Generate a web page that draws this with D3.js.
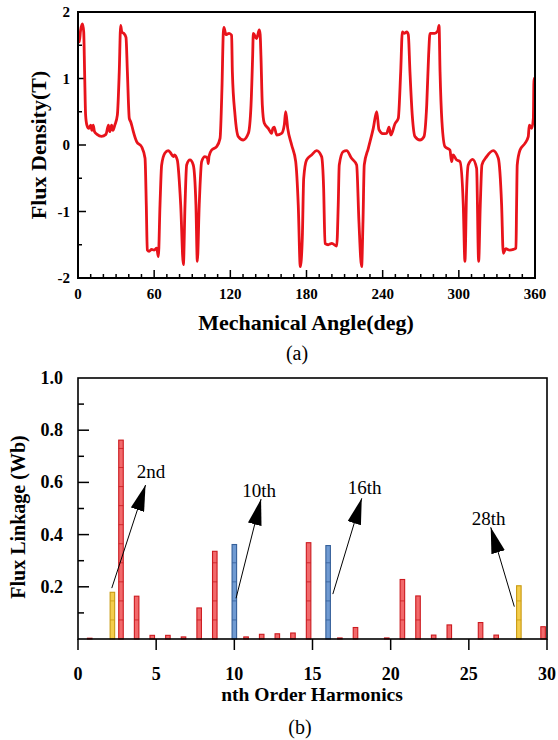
<!DOCTYPE html>
<html>
<head>
<meta charset="utf-8">
<title>Flux density and harmonics</title>
<script src="https://d3js.org/d3.v7.min.js"></script>
<style>
  body { margin: 0; background: #fff; }
  svg text { font-family: "Times New Roman", "Liberation Serif", serif; }
</style>
</head>
<body>
<svg id="chart" width="558" height="740"></svg>
<script>
// ---- (a) air-gap flux density vs mechanical angle ----
var angle = [0,1,2,3.5,4.5,5.2,6,7,8.5,10,11,12,13,15,18.5,22,24,25,26.5,27.5,29,31,32.5,33.6,34.5,36,37.8,38.9,40.4,41.5,42.3,43.6,46.2,50.2,52.8,53.8,54.6,56,58,60,62,63.3,64.6,65.9,68.5,71.1,73,75.1,76,78.2,80.9,83,84.3,85.6,88.2,90.8,92.9,94,95.5,97.4,100,102,102.6,103.2,105.3,109.2,111.9,113.4,114.5,115,116.5,119,121,121.6,123.7,126.3,130.2,134.2,136.3,137.6,138.1,140.7,142.8,143.5,144.1,145.2,146.7,149.9,152.5,153.5,154.6,156.5,160.4,162.5,163.6,165.2,168.3,171.5,173.5,175.1,176.7,177.8,180.1,184,188,191.9,193.5,194.6,197,200,203.8,205,205.8,208.9,211.6,215.5,219.5,221.3,223.4,224.5,225.5,228.7,232.6,235.3,237.1,240,243.2,245,246.5,249.7,252.3,254.2,255.5,257,259,260.2,261.5,263.3,265.5,269.4,272.5,274.7,276.2,277.3,281,283.5,284.4,285.2,286.7,289.1,293,294.3,295.5,298,300.9,303.5,304.8,306.1,307.4,310.9,314,315.6,316.9,318.2,321.9,327.1,331.1,333.7,335,337,340,343,345,345.5,346,348.2,352.1,354.7,355.5,357.4,358.7,359.2,360];
var fluxDensity = [1.62,1.55,1.72,1.82,1.7,1.1,0.45,0.3,0.25,0.3,0.22,0.3,0.2,0.16,0.13,0.16,0.3,0.2,0.3,0.22,0.3,0.45,1.1,1.8,1.7,1.68,1.62,1.1,0.4,0.35,0.3,0.2,0.05,-0.03,-0.2,-0.9,-1.58,-1.6,-1.57,-1.58,-1.55,-1.68,-0.9,-0.3,-0.12,-0.085,-0.12,-0.175,-0.15,-0.225,-0.9,-1.8,-0.9,-0.3,-0.225,-0.3,-0.9,-1.75,-0.9,-0.25,-0.175,-0.2,-0.28,-0.17,-0.075,-0.025,0.1,0.85,1.7,1.77,1.66,1.68,1.65,1.1,0.45,0.125,0.075,0.175,0.6,1.35,1.68,1.6,1.73,1.66,1.35,0.6,0.33,0.25,0.175,0.25,0.27,0.15,0.175,0.3,0.5,0.25,0,-0.25,-0.9,-1.83,-1.4,-0.5,-0.225,-0.15,-0.085,-0.175,-0.65,-1.48,-1.5,-1.48,-1.52,-0.9,-0.3,-0.1,-0.085,-0.2,-0.3,-1.15,-1.83,-1.15,-0.3,-0.05,0.25,0.5,0.23,0.17,0.175,0.27,0.15,0.32,0.4,1.1,1.7,1.68,1.7,1.66,1.1,0.45,0.125,0.075,0.125,0.6,1.35,1.68,1.68,1.72,1.8,1.1,0.35,-0.025,-0.075,-0.25,-0.15,-0.22,-0.25,-0.9,-1.75,-0.7,-0.3,-0.215,-0.35,-1.75,-0.9,-0.3,-0.175,-0.085,-0.2,-0.9,-1.63,-1.56,-1.58,-1.57,-1.55,-0.9,-0.3,-0.075,0.025,0.125,0.3,0.25,0.4,1,1];
var angleTicks = [0, 60, 120, 180, 240, 300, 360];
var densityTicks = [-2, -1, 0, 1, 2];

// ---- (b) harmonic spectrum of flux linkage ----
var redOrder = [0.75,1.75,2.75,3.75,4.75,5.75,6.75,7.75,8.75,9.75,10.75,11.75,12.75,13.75,14.75,15.75,16.75,17.75,18.75,19.75,20.75,21.75,22.75,23.75,24.75,25.75,26.75,27.75,28.75,29.75];
var redLinkage = [0.003,0,0.762,0.164,0.014,0.014,0.008,0.119,0.336,0,0.008,0.018,0.02,0.023,0.369,0,0.004,0.044,0,0.004,0.228,0.165,0.015,0.054,0,0.063,0.015,0,0,0.047];
var markedOrder = [2.2, 10, 16, 28.2];
var markedLinkage = [0.179, 0.362, 0.358, 0.204];
var markedKind = ["yellow", "blue", "blue", "yellow"];
var harmonicTicks = [0, 5, 10, 15, 20, 25, 30];
var linkageTicks = [0.2, 0.4, 0.6, 0.8, 1.0];
var noteText = ["2nd", "10th", "16th", "28th"];
// arrow tail, arrow tip and label, in axis units
var noteFrom = [[2.16, 0.195], [10.11, 0.156], [16.3, 0.172], [27.91, 0.124]];
var noteTip = [[4.32, 0.59], [11.71, 0.536], [18.15, 0.539], [26.4, 0.428]];
var noteAt = [[4.67, 0.641], [11.58, 0.568], [18.33, 0.581], [26.26, 0.462]];

var barColors = {
  red: {fill: "#f2696b", stroke: "#cc1a1f"},
  blue: {fill: "#6f9ad2", stroke: "#35609a"},
  yellow: {fill: "#f4cd4c", stroke: "#c99a12"}
};

var svg = d3.select("#chart");

// ================= chart (a) =================
var xa = d3.scaleLinear().domain([0, 360]).range([78, 535]);
var ya = d3.scaleLinear().domain([-2, 2]).range([278, 12]);

var ga = svg.append("g");

ga.append("clipPath").attr("id", "clipA")
  .append("rect").attr("x", 78).attr("y", 12).attr("width", 457).attr("height", 266);

// minor ticks (inward)
ga.selectAll(".xminA").data(d3.range(0, 361, 10)).enter().append("line")
  .attr("x1", function(d){ return xa(d); }).attr("x2", function(d){ return xa(d); })
  .attr("y1", 278).attr("y2", function(d){ return d % 60 === 0 ? 270 : 274; })
  .attr("stroke", "#000").attr("stroke-width", 1.5);
ga.selectAll(".yminA").data(d3.range(-2, 2.01, 0.5)).enter().append("line")
  .attr("y1", function(d){ return ya(d); }).attr("y2", function(d){ return ya(d); })
  .attr("x1", 78).attr("x2", function(d){ return Number.isInteger(d) ? 86 : 82; })
  .attr("stroke", "#000").attr("stroke-width", 1.5);

// the flux density curve
var pointsA = angle.map(function(a, i){ return [a, fluxDensity[i]]; });
ga.append("path")
  .datum(pointsA)
  .attr("clip-path", "url(#clipA)")
  .attr("fill", "none")
  .attr("stroke", "#e8131b")
  .attr("stroke-width", 2.8)
  .attr("stroke-linejoin", "round")
  .attr("d", d3.line().curve(d3.curveMonotoneX)
    .x(function(d){ return xa(d[0]); }).y(function(d){ return ya(d[1]); }));

// frame
ga.append("rect").attr("x", 78).attr("y", 12).attr("width", 457).attr("height", 266)
  .attr("fill", "none").attr("stroke", "#000").attr("stroke-width", 2);

ga.selectAll(".xlabA").data(angleTicks).enter().append("text")
  .attr("x", function(d){ return xa(d); }).attr("y", 294)
  .attr("text-anchor", "middle").attr("dominant-baseline", "central")
  .attr("font-size", 15).attr("font-weight", "bold")
  .text(function(d){ return d; });
ga.selectAll(".ylabA").data(densityTicks).enter().append("text")
  .attr("x", 70).attr("y", function(d){ return ya(d); })
  .attr("text-anchor", "end").attr("dominant-baseline", "central")
  .attr("font-size", 15).attr("font-weight", "bold")
  .text(function(d){ return d < 0 ? "-" + Math.abs(d) : d; });

ga.append("text")
  .attr("transform", "translate(46,145) rotate(-90)")
  .attr("text-anchor", "middle").attr("font-size", 22).attr("font-weight", "bold")
  .text("Flux Density(T)");
ga.append("text")
  .attr("x", 306).attr("y", 330)
  .attr("text-anchor", "middle").attr("font-size", 22).attr("font-weight", "bold")
  .text("Mechanical Angle(deg)");
ga.append("text")
  .attr("x", 297).attr("y", 360)
  .attr("text-anchor", "middle").attr("font-size", 20)
  .text("(a)");

// ================= chart (b) =================
var xb = d3.scaleLinear().domain([0, 30]).range([78, 547]);
var yb = d3.scaleLinear().domain([0, 1]).range([639, 378]);
var gb = svg.append("g");
var barW = xb(0.29) - xb(0);

// y ticks inward, major every 0.2 and minor every 0.1
gb.selectAll(".ytickB").data(d3.range(1, 10)).enter().append("line")
  .attr("y1", function(d){ return yb(d / 10); }).attr("y2", function(d){ return yb(d / 10); })
  .attr("x1", 78).attr("x2", function(d){ return d % 2 === 0 ? 89 : 84; })
  .attr("stroke", "#000").attr("stroke-width", 1.5);
// x ticks outward
gb.selectAll(".xtickB").data(harmonicTicks).enter().append("line")
  .attr("x1", function(d){ return xb(d); }).attr("x2", function(d){ return xb(d); })
  .attr("y1", 639).attr("y2", 650)
  .attr("stroke", "#000").attr("stroke-width", 1.5);

function drawBars(xs, vals, kinds) {
  var data = xs.map(function(x, i){ return {x: x, v: vals[i], kind: kinds[i]}; })
    .filter(function(d){ return d.v > 0; });
  var g = gb.selectAll(null).data(data).enter().append("g");
  g.append("rect")
    .attr("x", function(d){ return xb(d.x) - barW / 2; })
    .attr("y", function(d){ return yb(d.v); })
    .attr("width", barW)
    .attr("height", function(d){ return yb(0) - yb(d.v); })
    .attr("fill", function(d){ return barColors[d.kind].fill; })
    .attr("stroke", function(d){ return barColors[d.kind].stroke; })
    .attr("stroke-width", 1.1);
  // the small segment marks inside each bar
  g.each(function(d){
    var marks = d3.range(0.073, d.v - 0.02, 0.073);
    d3.select(this).selectAll("line").data(marks).enter().append("line")
      .attr("x1", xb(d.x) - barW / 2).attr("x2", xb(d.x) + barW / 2)
      .attr("y1", function(m){ return yb(m); }).attr("y2", function(m){ return yb(m); })
      .attr("stroke", barColors[d.kind].stroke).attr("stroke-width", 0.8);
  });
}
drawBars(redOrder, redLinkage, redOrder.map(function(){ return "red"; }));
drawBars(markedOrder, markedLinkage, markedKind);

// frame
gb.append("rect").attr("x", 78).attr("y", 378).attr("width", 469).attr("height", 261)
  .attr("fill", "none").attr("stroke", "#000").attr("stroke-width", 1.6);

gb.selectAll(".xlabB").data(harmonicTicks).enter().append("text")
  .attr("x", function(d){ return xb(d); }).attr("y", 674)
  .attr("text-anchor", "middle").attr("dominant-baseline", "central")
  .attr("font-size", 18).attr("font-weight", "bold")
  .text(function(d){ return d; });
gb.selectAll(".ylabB").data(linkageTicks).enter().append("text")
  .attr("x", 63).attr("y", function(d){ return yb(d); })
  .attr("text-anchor", "end").attr("dominant-baseline", "central")
  .attr("font-size", 18).attr("font-weight", "bold")
  .text(function(d){ return d.toFixed(1); });

gb.append("text")
  .attr("transform", "translate(25,517) rotate(-90)")
  .attr("text-anchor", "middle").attr("font-size", 20).attr("font-weight", "bold")
  .text("Flux Linkage (Wb)");
gb.append("text")
  .attr("x", 312).attr("y", 701)
  .attr("text-anchor", "middle").attr("font-size", 19.5).attr("font-weight", "bold")
  .text("nth Order Harmonics");
gb.append("text")
  .attr("x", 300).attr("y", 734)
  .attr("text-anchor", "middle").attr("font-size", 20)
  .text("(b)");

// annotations: thin line with a filled arrowhead at the tip
var defs = svg.append("defs");
defs.append("marker").attr("id", "head")
  .attr("viewBox", "0 0 26 14").attr("refX", 26).attr("refY", 7)
  .attr("markerWidth", 26).attr("markerHeight", 14)
  .attr("markerUnits", "userSpaceOnUse").attr("orient", "auto")
  .append("path").attr("d", "M0,0 L26,7 L0,14 Z").attr("fill", "#000");

noteText.forEach(function(t, i){
  gb.append("line")
    .attr("x1", xb(noteFrom[i][0])).attr("y1", yb(noteFrom[i][1]))
    .attr("x2", xb(noteTip[i][0])).attr("y2", yb(noteTip[i][1]))
    .attr("stroke", "#000").attr("stroke-width", 1)
    .attr("marker-end", "url(#head)");
  gb.append("text")
    .attr("x", xb(noteAt[i][0])).attr("y", yb(noteAt[i][1]))
    .attr("text-anchor", "middle").attr("dominant-baseline", "central")
    .attr("font-size", 19)
    .text(t);
});
</script>
</body>
</html>
